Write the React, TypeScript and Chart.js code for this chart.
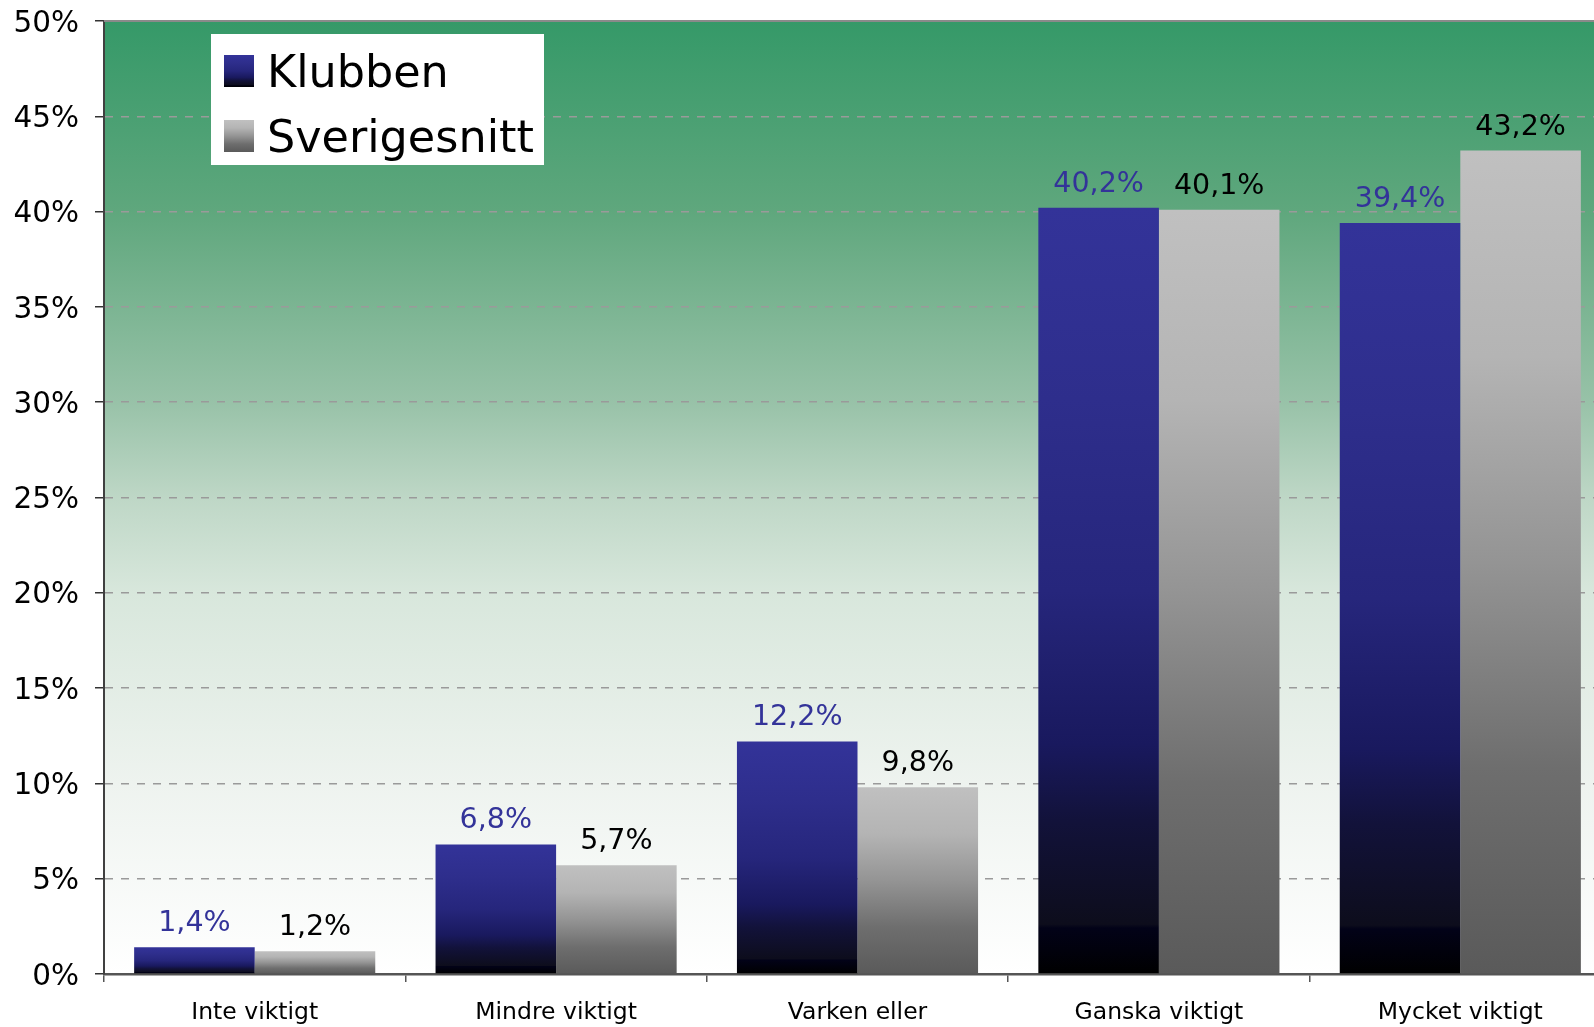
import React, { useEffect, useRef } from 'react';
import { Chart, registerables } from 'chart.js';

Chart.register(...registerables);

// ---- data ----
const categories = ['Inte viktigt', 'Mindre viktigt', 'Varken eller', 'Ganska viktigt', 'Mycket viktigt'];
const seriesNames = ['Klubben', 'Sverigesnitt'];
const klubbenValues = [1.4, 6.8, 12.2, 40.2, 39.4];
const sverigeValues = [1.2, 5.7, 9.8, 40.1, 43.2];
const yMin = 0;
const yMax = 50;
const yStep = 5;

// ---- styles ----
const FONT = '"DejaVu Sans", Verdana, sans-serif';
const blueStops: [number, string][] = [
  [0, '#333399'],
  [0.25, '#2e2e8c'],
  [0.5, '#26267c'],
  [0.7, '#19195e'],
  [0.8, '#12123a'],
  [0.935, '#0d0d1c'],
  [0.94, '#020218'],
  [1, '#000000'],
];
const grayStops: [number, string][] = [
  [0, '#c0c0c0'],
  [0.25, '#b4b4b4'],
  [0.5, '#949494'],
  [0.75, '#6e6e6e'],
  [1, '#5a5a5a'],
];
const bgStops: [number, string][] = [
  [0, 'rgb(53,153,104)'],
  [0.2, 'rgb(95,167,125)'],
  [0.4, 'rgb(152,194,168)'],
  [0.5, 'rgb(190,215,198)'],
  [0.6, 'rgb(216,231,220)'],
  [0.8, 'rgb(238,243,239)'],
  [1, 'rgb(255,255,255)'],
];
const labelColors = ['#333399', '#000000'];
const seriesStops = [blueStops, grayStops];

function makeGradient(c: CanvasRenderingContext2D, y0: number, y1: number, stops: [number, string][]) {
  const g = c.createLinearGradient(0, y0, 0, y1);
  stops.forEach(([o, col]) => g.addColorStop(o, col));
  return g;
}

function barColor(stops: [number, string][], fallback: string) {
  return (ctx: any) => {
    const chart = ctx.chart;
    if (!chart.chartArea || ctx.type !== 'data') return fallback;
    const y = chart.scales.y;
    const top = y.getPixelForValue(ctx.raw);
    const bottom = y.getPixelForValue(0);
    if (!isFinite(top) || !isFinite(bottom) || top === bottom) return fallback;
    return makeGradient(chart.ctx, top, bottom, stops);
  };
}

const fmt = (v: number) => v.toFixed(1).replace('.', ',') + '%';

const backgroundPlugin = {
  id: 'plotBackground',
  beforeDraw(chart: any) {
    const { ctx, chartArea } = chart;
    if (!chartArea) return;
    ctx.save();
    ctx.fillStyle = makeGradient(ctx, chartArea.top, chartArea.bottom, bgStops);
    ctx.fillRect(chartArea.left, chartArea.top, chartArea.right - chartArea.left, chartArea.bottom - chartArea.top);
    ctx.restore();
  },
  beforeDatasetsDraw(chart: any) {
    const { ctx, chartArea } = chart;
    ctx.save();
    ctx.strokeStyle = '#8a8a8a';
    ctx.lineWidth = 2;
    ctx.beginPath();
    ctx.moveTo(chartArea.left, chartArea.top);
    ctx.lineTo(chartArea.right, chartArea.top);
    ctx.stroke();
    ctx.restore();
  },
};

const valueLabelPlugin = {
  id: 'valueLabels',
  afterDatasetsDraw(chart: any) {
    const c = chart.ctx;
    c.save();
    c.font = `28.5px ${FONT}`;
    c.textAlign = 'center';
    c.textBaseline = 'alphabetic';
    chart.data.datasets.forEach((ds: any, i: number) => {
      const meta = chart.getDatasetMeta(i);
      meta.data.forEach((el: any, j: number) => {
        c.fillStyle = labelColors[i];
        c.fillText(fmt(ds.data[j]), el.x, el.y - 16);
      });
    });
    c.restore();
  },
};

const boxLegendPlugin = {
  id: 'boxLegend',
  afterDraw(chart: any) {
    const c = chart.ctx;
    const ox = chart.chartArea.left;
    c.save();
    c.fillStyle = '#ffffff';
    c.fillRect(ox + 107, 34, 333, 131);
    c.font = `44.5px ${FONT}`;
    c.textAlign = 'left';
    c.textBaseline = 'alphabetic';
    chart.data.datasets.forEach((ds: any, i: number) => {
      const sy = i === 0 ? 55 : 120;
      c.fillStyle = makeGradient(c, sy, sy + 32, seriesStops[i]);
      c.fillRect(ox + 120, sy, 30, 32);
      c.fillStyle = '#000000';
      c.fillText(ds.label, ox + 163, sy + 32);
    });
    c.restore();
  },
};

export default function App() {
  const ref = useRef<HTMLCanvasElement | null>(null);

  useEffect(() => {
    if (!ref.current) return;
    const chart = new Chart(ref.current, {
      type: 'bar',
      data: {
        labels: categories,
        datasets: [
          {
            label: seriesNames[0],
            data: klubbenValues,
            backgroundColor: barColor(blueStops, '#333399'),
            borderWidth: 0,
            categoryPercentage: 0.8,
            barPercentage: 1.0,
          },
          {
            label: seriesNames[1],
            data: sverigeValues,
            backgroundColor: barColor(grayStops, '#c0c0c0'),
            borderWidth: 0,
            categoryPercentage: 0.8,
            barPercentage: 1.0,
          },
        ],
      },
      options: {
        animation: false,
        responsive: true,
        maintainAspectRatio: false,
        layout: { padding: { top: 21, right: 1, bottom: 0, left: 0 } },
        plugins: {
          legend: { display: false },
          tooltip: { enabled: false },
          title: { display: false },
        },
        scales: {
          x: {
            grid: {
              display: true,
              drawOnChartArea: false,
              offset: true,
              tickLength: 8,
              color: '#555555',
              lineWidth: 1.5,
            },
            border: { display: true, color: '#555555', width: 2.5 },
            ticks: {
              color: '#000000',
              padding: 17,
              font: { family: FONT, size: 23.5 },
              maxRotation: 0,
              autoSkip: false,
            },
            afterFit: (scale: any) => {
              scale.height = 53;
              scale.paddingLeft = 0;
              scale.paddingRight = 0;
            },
          },
          y: {
            min: yMin,
            max: yMax,
            ticks: {
              stepSize: yStep,
              color: '#000000',
              padding: 16,
              labelOffset: 3,
              font: { family: FONT, size: 29.5 },
              callback: (v: any) => `${v}%`,
            },
            grid: {
              color: '#9a9a9a',
              lineWidth: 1.5,
              tickLength: 9,
              tickColor: '#333333',
              tickWidth: 1.5,
              tickBorderDash: [],
            },
            border: { display: true, color: '#404040', width: 2, dash: [8, 8] },
            afterFit: (scale: any) => {
              scale.width = 104;
              scale.paddingTop = 0;
              scale.paddingBottom = 0;
            },
          },
        },
      },
      plugins: [backgroundPlugin, valueLabelPlugin, boxLegendPlugin],
    });
    return () => chart.destroy();
  }, []);

  return (
    <div
      style={{
        position: 'fixed',
        left: 0,
        top: 0,
        width: 1594,
        height: 1027,
        overflow: 'hidden',
        background: '#ffffff',
      }}
    >
      <div style={{ position: 'relative', width: 1612, height: 1027 }}>
        <canvas ref={ref} />
      </div>
    </div>
  );
}
